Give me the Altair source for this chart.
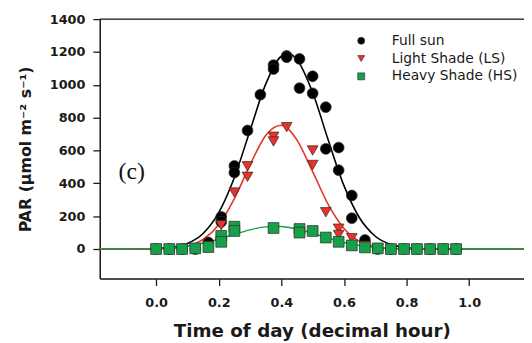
import altair as alt
import pandas as pd

# ---------------- data ----------------
series_names = ["Full sun", "Light Shade (LS)", "Heavy Shade (HS)"]
series_colors = ["#000000", "#e8322a", "#17a04a"]
series_shapes = ["circle", "triangle-down", "square"]

sun_x = [0.0, 0.042, 0.083, 0.125, 0.167, 0.208, 0.208, 0.25, 0.25, 0.292, 0.333,
         0.375, 0.375, 0.417, 0.417, 0.458, 0.458, 0.5, 0.5, 0.542, 0.542, 0.583,
         0.583, 0.625, 0.625, 0.667, 0.708, 0.75, 0.792, 0.833, 0.875, 0.917, 0.958]
sun_y = [0, 0, 0, 0, 40, 196, 166, 506, 466, 722, 940,
         1120, 1096, 1176, 1168, 1158, 980, 1052, 948, 864, 610, 618,
         480, 326, 188, 55, 0, 0, 0, 0, 0, 0, 0]

ls_x = [0.0, 0.042, 0.083, 0.125, 0.167, 0.208, 0.25, 0.292, 0.292, 0.375, 0.375,
        0.417, 0.5, 0.5, 0.542, 0.583, 0.583, 0.625, 0.667, 0.708, 0.75, 0.792,
        0.833, 0.875, 0.917, 0.958]
ls_y = [0, 0, 0, 0, 20, 145, 344, 504, 440, 684, 655,
        742, 600, 512, 224, 124, 86, 66, 20, 0, 0, 0,
        0, 0, 0, 0]

hs_x = [0.0, 0.042, 0.083, 0.125, 0.167, 0.208, 0.208, 0.25, 0.25, 0.375, 0.458,
        0.458, 0.5, 0.542, 0.583, 0.625, 0.667, 0.708, 0.75, 0.792, 0.833, 0.875,
        0.917, 0.958]
hs_y = [0, 0, 0, 4, 12, 80, 44, 136, 110, 128, 122,
        100, 110, 70, 44, 22, 10, 4, 0, 0, 0, 0,
        0, 0]

# fitted curves, values
curve_x = [-0.18, -0.1, -0.05, 0.0, 0.05, 0.1, 0.15, 0.2, 0.25, 0.3, 0.35, 0.4,
           0.425, 0.45, 0.5, 0.55, 0.6, 0.65, 0.7, 0.75, 0.8, 0.85, 0.9, 0.95,
           1.0, 1.1, 1.175]
sun_fit = [0, 0, 0.1, 2.6, 10, 34, 95, 222, 436, 722, 1004, 1174,
           1189, 1153, 953, 662, 386, 189, 78, 27, 8, 2, 0.4, 0,
           0, 0, 0]
ls_fit = [0, 0, 0, 0.9, 4.6, 18, 58, 148, 307, 513, 692, 754,
          726, 663, 471, 270, 125, 46, 14, 3.4, 0.7, 0, 0, 0,
          0, 0, 0]
hs_fit = [0, 0.4, 1.2, 3.5, 8.6, 18.7, 35.8, 60, 90, 117, 135, 137,
          131, 122, 96, 66, 40, 21.5, 10, 4.2, 1.5, 0.5, 0.1, 0,
          0, 0, 0]

panel_label = ["(c)"]
panel_label_x = [-0.12]
panel_label_y = [470]

x_ticks = [0.0, 0.2, 0.4, 0.6, 0.8, 1.0]
y_ticks = [0, 200, 400, 600, 800, 1000, 1200, 1400]
x_domain = [-0.18, 1.175]
y_domain = [-180, 1400]

# ---------------- tables ----------------
pts = pd.concat([
    pd.DataFrame({"t": sun_x, "par": sun_y, "site": series_names[0]}),
    pd.DataFrame({"t": ls_x, "par": ls_y, "site": series_names[1]}),
    pd.DataFrame({"t": hs_x, "par": hs_y, "site": series_names[2]}),
], ignore_index=True)
pts["idx"] = range(len(pts))

fits = pd.DataFrame({"t": curve_x, "sun": sun_fit, "ls": ls_fit, "hs": hs_fit})
lab = pd.DataFrame({"t": panel_label_x, "par": panel_label_y, "txt": panel_label})
frame = pd.DataFrame({"x0": [x_domain[0]], "x1": [x_domain[1]], "ytop": [y_domain[1]]})

FONT = "DejaVu Sans"
INK = "#1a1a1a"

x_scale = alt.Scale(domain=x_domain, nice=False, zero=False)
y_scale = alt.Scale(domain=y_domain, nice=False, zero=False)

x_axis = alt.Axis(values=x_ticks, format=".1f", labelOverlap=False,
                  title="Time of day (decimal hour)")
y_axis = alt.Axis(values=y_ticks, format="d", labelOverlap=False,
                  title="PAR (µmol m⁻² s⁻¹)")


def X(field):
    return alt.X(field, type="quantitative", scale=x_scale, axis=x_axis)


def Y(field):
    return alt.Y(field, type="quantitative", scale=y_scale, axis=y_axis)


base_fit = alt.Chart(fits)

line_sun = base_fit.mark_line(color=series_colors[0], strokeWidth=1.6,
                              interpolate="monotone").encode(x=X("t"), y=Y("sun"))
line_ls = base_fit.mark_line(color=series_colors[1], strokeWidth=1.6,
                             interpolate="monotone").encode(x=X("t"), y=Y("ls"))
line_hs = base_fit.mark_line(color=series_colors[2], strokeWidth=1.4,
                             interpolate="monotone").encode(x=X("t"), y=Y("hs"))

top_line = alt.Chart(frame).mark_rule(color=INK, strokeWidth=1.5).encode(
    x=X("x0"), x2="x1", y=Y("ytop"))

points = alt.Chart(pts).mark_point(filled=True, size=120, opacity=1,
                                   stroke="#2a2a2a", strokeWidth=0.7).encode(
    x=X("t"),
    y=Y("par"),
    color=alt.Color("site:N", scale=alt.Scale(domain=series_names, range=series_colors),
                    sort=series_names,
                    legend=alt.Legend(orient="none", legendX=258, legendY=15,
                                      title=None, symbolSize=50,
                                      symbolStrokeColor="#2a2a2a",
                                      symbolStrokeWidth=0.6,
                                      labelFont=FONT, labelFontSize=14,
                                      labelColor=INK, labelOffset=24,
                                      rowPadding=4, padding=0)),
    shape=alt.Shape("site:N", scale=alt.Scale(domain=series_names, range=series_shapes),
                    sort=series_names),
    order=alt.Order("idx:Q"),
)

label = alt.Chart(lab).mark_text(font="Liberation Serif", fontSize=24, align="left",
                                 baseline="middle", color="#111111").encode(
    x=X("t"), y=Y("par"), text="txt:N",
)

chart = alt.layer(top_line, line_sun, line_ls, line_hs, points, label).properties(
    width=430, height=263,
    autosize=alt.AutoSizeParams(type="none"),
    padding={"left": 93, "top": 9, "right": 0, "bottom": 63},
).configure_view(stroke=None).configure(background="white").configure_axis(
    grid=False, tickSize=7, tickWidth=1.3, tickColor=INK,
    domainColor=INK, domainWidth=1.5,
    labelFont=FONT, labelFontWeight="bold", labelFontSize=13, labelColor=INK,
    titleFont=FONT, titleFontWeight="bold", titleColor=INK,
).configure_axisX(labelPadding=11, titleFontSize=18.5, titlePadding=13).configure_axisY(
    labelPadding=8, titleFontSize=16, titlePadding=16)

chart.save("out.html", embed_options={"renderer": "svg", "actions": False})
